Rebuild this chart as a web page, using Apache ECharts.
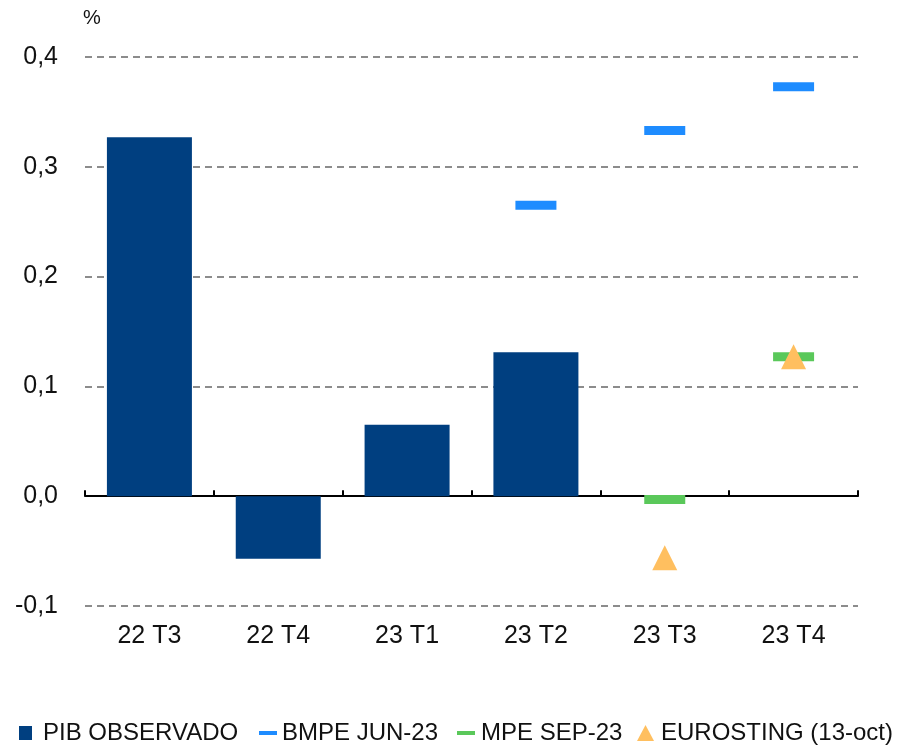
<!DOCTYPE html>
<html>
<head>
<meta charset="utf-8">
<script src="https://cdn.jsdelivr.net/npm/echarts@6/dist/echarts.min.js"></script>
<style>
  html, body { margin: 0; padding: 0; background: #fff; }
  #chart { width: 902px; height: 747px; }
</style>
</head>
<body>
<div id="chart"></div>
<script>
// quarters and observed / forecast values (%)
var categories = ['22 T3', '22 T4', '23 T1', '23 T2', '23 T3', '23 T4'];
var pibObservado = [0.327, -0.057, 0.065, 0.131, '-', '-'];
var bmpeJun23 = ['-', '-', '-', 0.265, 0.333, 0.373];
var mpeSep23 = ['-', '-', '-', '-', -0.003, 0.127];
var eurosting = ['-', '-', '-', '-', -0.056, 0.127];

var font = 'Liberation Sans, Arial, sans-serif';

var chart = echarts.init(document.getElementById('chart'));

function fmt(v) {
    return v.toFixed(1).replace('.', ',');
}

function legendItem(name, left, w, h, icon, pad) {
    return {
        data: [name],
        left: left,
        top: 716,
        icon: icon,
        itemWidth: w,
        itemHeight: h,
        selectedMode: false,
        textStyle: {
            fontFamily: font,
            fontSize: 24,
            color: '#111',
            padding: [0, 0, 0, pad]
        }
    };
}

var option = {
    animation: false,
    textStyle: { fontFamily: font },
    grid: {
        left: 85,
        right: 44,
        top: 57,
        bottom: 141
    },
    graphic: [{
        type: 'text',
        left: 83,
        top: 8,
        style: { text: '%', fontSize: 20, fontFamily: font, fill: '#111' }
    }],
    legend: [
        legendItem('PIB OBSERVADO', 14, 13, 14, 'rect', 6),
        legendItem('BMPE JUN-23', 254, 18, 4, 'rect', 0),
        legendItem('MPE SEP-23', 452, 18, 4, 'rect', 1),
        legendItem('EUROSTING (13-oct)', 632, 17, 16, 'triangle', 2)
    ],
    xAxis: [
        {
            type: 'category',
            data: categories,
            axisLine: { onZero: true, lineStyle: { color: '#000', width: 2 } },
            axisTick: { show: true, inside: true, length: 6, lineStyle: { color: '#000', width: 2 } },
            axisLabel: { show: false },
            splitLine: { show: false }
        },
        {
            type: 'category',
            data: categories,
            position: 'bottom',
            axisLine: { show: false, onZero: false },
            axisTick: { show: false },
            axisLabel: {
                fontSize: 25,
                color: '#111',
                margin: 18,
                fontFamily: font
            }
        }
    ],
    yAxis: {
        type: 'value',
        min: -0.1,
        max: 0.4,
        interval: 0.1,
        axisLine: { show: false },
        axisTick: { show: false },
        axisLabel: {
            fontSize: 25,
            color: '#111',
            margin: 27,
            fontFamily: font,
            formatter: fmt
        },
        splitLine: {
            lineStyle: { color: '#8c8c8c', width: 2, type: [7, 5] }
        }
    },
    series: [
        {
            name: 'PIB OBSERVADO',
            type: 'bar',
            xAxisIndex: 0,
            data: pibObservado,
            barWidth: 85,
            itemStyle: { color: '#003f80' }
        },
        {
            name: 'BMPE JUN-23',
            type: 'scatter',
            xAxisIndex: 0,
            data: bmpeJun23,
            symbol: 'rect',
            symbolSize: [41, 9],
            itemStyle: { color: '#1e8cff', opacity: 1 },
            z: 3
        },
        {
            name: 'MPE SEP-23',
            type: 'scatter',
            xAxisIndex: 0,
            data: mpeSep23,
            symbol: 'rect',
            symbolSize: [41, 9],
            itemStyle: { color: '#5ac85a', opacity: 1 },
            z: 4
        },
        {
            name: 'EUROSTING (13-oct)',
            type: 'scatter',
            xAxisIndex: 0,
            data: eurosting,
            symbol: 'triangle',
            symbolSize: [25, 25],
            itemStyle: { color: '#ffbf5f', opacity: 1 },
            z: 5
        }
    ]
};

chart.setOption(option);
</script>
</body>
</html>
